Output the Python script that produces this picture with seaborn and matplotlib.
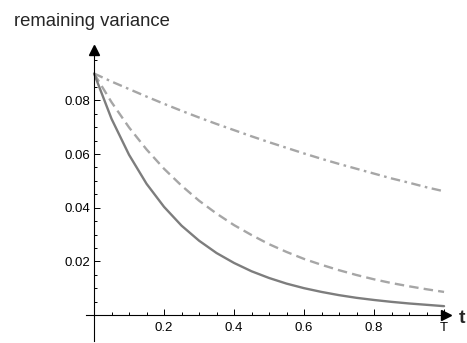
import matplotlib
matplotlib.use("Agg")
import matplotlib.pyplot as plt
import numpy as np
import pandas as pd
import seaborn as sns

# values
t = [0.0, 0.05, 0.1, 0.15, 0.2, 0.25, 0.3, 0.35, 0.4, 0.45, 0.5,
     0.55, 0.6, 0.65, 0.7, 0.75, 0.8, 0.85, 0.9, 0.95, 1.0]
solid = [0.0900, 0.0731, 0.0597, 0.0489, 0.0403, 0.0333, 0.0277, 0.0231,
         0.0194, 0.0163, 0.0138, 0.0117, 0.0100, 0.0086, 0.0074, 0.0064,
         0.0056, 0.0049, 0.0043, 0.0038, 0.0033]
dashed = [0.0900, 0.0793, 0.0699, 0.0617, 0.0545, 0.0482, 0.0426, 0.0378,
          0.0335, 0.0298, 0.0264, 0.0235, 0.0209, 0.0187, 0.0167, 0.0149,
          0.0133, 0.0119, 0.0107, 0.0096, 0.0086]
dashdot = [0.0900, 0.0870, 0.0842, 0.0814, 0.0787, 0.0761, 0.0736, 0.0712,
           0.0689, 0.0666, 0.0644, 0.0623, 0.0602, 0.0582, 0.0563, 0.0545,
           0.0527, 0.0509, 0.0493, 0.0476, 0.0461]

x_ticks = [0.2, 0.4, 0.6, 0.8, 1.0]
x_labels = ["0.2", "0.4", "0.6", "0.8", "T"]
y_ticks = [0.02, 0.04, 0.06, 0.08]
y_labels = ["0.02", "0.04", "0.06", "0.08"]

df = pd.DataFrame({"t": t, "solid": solid, "dashed": dashed, "dashdot": dashdot})

sns.set_style("white")
plt.rcParams["font.family"] = ["Liberation Sans", "DejaVu Sans"]

fig = plt.figure(figsize=(4.67, 3.43), dpi=100)
ax = fig.add_axes([86 / 467, 2.5 / 343, 359.8 / 467, 290.6 / 343])

sns.lineplot(data=df, x="t", y="dashdot", ax=ax, color="#a6a6a6", lw=1.7,
             linestyle=(0, (4.0, 1.9, 1.1, 1.9)))
sns.lineplot(data=df, x="t", y="dashed", ax=ax, color="#a6a6a6", lw=1.7,
             linestyle=(0, (4.0, 2.2)))
sns.lineplot(data=df, x="t", y="solid", ax=ax, color="#7d7d7d", lw=1.7)

ax.set_xlim(-0.023, 1.005)
ax.set_ylim(-0.0095, 0.0988)
ax.set_xlabel("")
ax.set_ylabel("")

# axes crossing at the origin, with arrows
for s in ["top", "right"]:
    ax.spines[s].set_visible(False)
ax.spines["left"].set_position(("data", 0))
ax.spines["bottom"].set_position(("data", 0))
for s in ["left", "bottom"]:
    ax.spines[s].set_color("black")
    ax.spines[s].set_linewidth(0.8)
ax.plot(1, 0, ">", color="black", ms=7, transform=ax.get_yaxis_transform(), clip_on=False)
ax.plot(0, 1, "^", color="black", ms=7, transform=ax.get_xaxis_transform(), clip_on=False)

ax.set_xticks(x_ticks)
ax.set_xticklabels(x_labels)
ax.set_xticks(np.arange(0.05, 1.0, 0.05), minor=True)
ax.set_yticks(y_ticks)
ax.set_yticklabels(y_labels)
ax.set_yticks(np.arange(0.005, 0.096, 0.005), minor=True)
ax.tick_params(which="both", direction="in", color="black", width=0.7,
               labelsize=9.5, labelcolor="black")
ax.tick_params(which="major", length=4)
ax.tick_params(which="minor", length=2.3)
ax.tick_params(axis="x", which="major", pad=5)
ax.tick_params(axis="y", which="major", pad=3)
ax.tick_params(left=True, bottom=True)
ax.tick_params(which="minor", left=True, bottom=True)

fig.text(14 / 467, 1 - 26.5 / 343, "remaining variance", fontsize=13.3, va="baseline")
fig.text(459 / 467, 1 - 323 / 343, "t", fontsize=14, fontweight="bold", va="baseline")

fig.savefig("out.png", dpi=100)
